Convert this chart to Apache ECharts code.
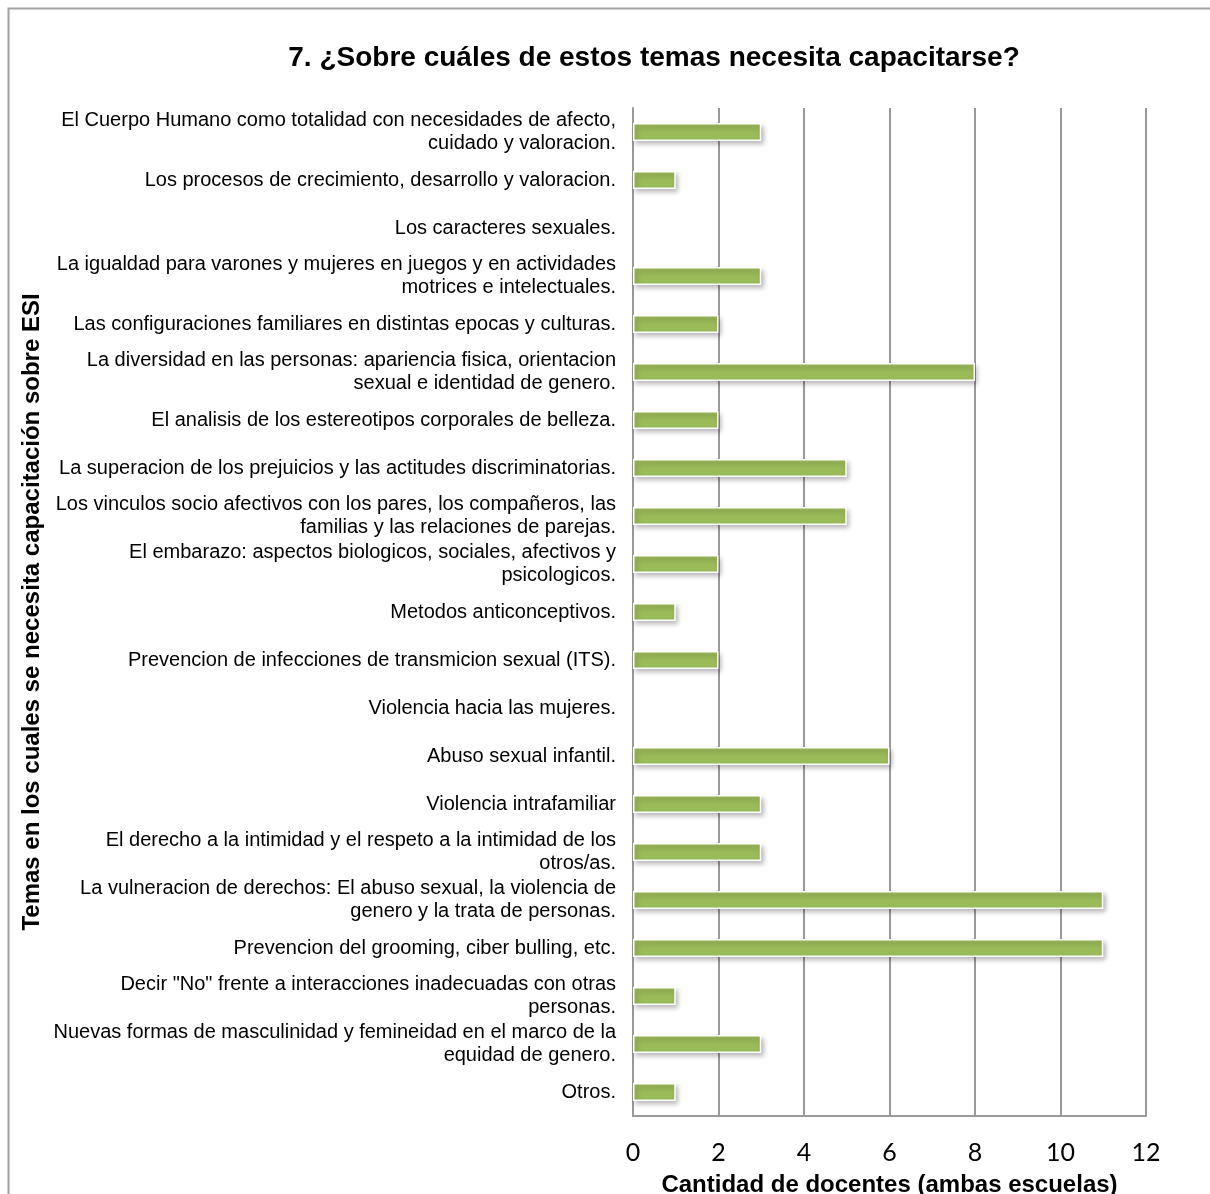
<!DOCTYPE html>
<html>
<head>
<meta charset="utf-8">
<script src="https://cdn.jsdelivr.net/npm/echarts@6/dist/echarts.min.js"></script>
<style>html,body{margin:0;padding:0;background:#fff;}#c{width:1210px;height:1194px;}</style>
</head>
<body>
<div id="c"></div>
<script>
const categories = [
  "El Cuerpo Humano como totalidad con necesidades de afecto,\ncuidado y valoracion.",
  "Los procesos de crecimiento, desarrollo y valoracion.",
  "Los caracteres sexuales.",
  "La igualdad para varones y mujeres en juegos y en actividades\nmotrices e intelectuales.",
  "Las configuraciones familiares en distintas epocas y culturas.",
  "La diversidad en las personas: apariencia fisica, orientacion\nsexual e identidad de genero.",
  "El analisis de los estereotipos corporales de belleza.",
  "La superacion de los prejuicios y las actitudes discriminatorias.",
  "Los vinculos socio afectivos con los pares, los compañeros, las\nfamilias y las relaciones de parejas.",
  "El embarazo: aspectos biologicos, sociales, afectivos y\npsicologicos.",
  "Metodos anticonceptivos.",
  "Prevencion de infecciones de transmicion sexual (ITS).",
  "Violencia hacia las mujeres.",
  "Abuso sexual infantil.",
  "Violencia intrafamiliar",
  "El derecho a la intimidad y el respeto a la intimidad de los\notros/as.",
  "La vulneracion de derechos: El abuso sexual, la violencia de\ngenero y la trata de personas.",
  "Prevencion del grooming, ciber bulling, etc.",
  "Decir \"No\" frente a interacciones inadecuadas con otras\npersonas.",
  "Nuevas formas de masculinidad y femineidad en el marco de la\nequidad de genero.",
  "Otros."
];
const values = [3, 1, 0, 3, 2, 8, 2, 5, 5, 2, 1, 2, 0, 6, 3, 3, 11, 11, 1, 3, 1];
const xTicks = { min: 0, max: 12, interval: 2 };
const titleText = "7. ¿Sobre cuáles de estos temas necesita capacitarse?";
const xName = "Cantidad de docentes (ambas escuelas)";
const yName = "Temas en los cuales se necesita capacitación sobre ESI";

const noMark = { borderWidth: 0, shadowBlur: 0, shadowOffsetX: 0, shadowOffsetY: 0, shadowColor: 'transparent' };
const barData = values.map(v => v === 0 ? { value: v, itemStyle: noMark } : v);

const chart = echarts.init(document.getElementById('c'), null, { renderer: 'canvas' });
chart.setOption({
  backgroundColor: '#fff',
  animation: false,
  title: {
    text: titleText,
    left: 649, top: 39, textAlign: 'center',
    textStyle: { fontFamily: 'Liberation Sans, Arial', fontWeight: 'bold', fontSize: 28, color: '#000' }
  },
  graphic: [{
    type: 'rect', shape: { x: 8.5, y: 8.5, width: 1240, height: 1240 },
    style: { fill: 'none', stroke: '#a0a0a0', lineWidth: 2 }, silent: true
  }],
  grid: { left: 633, right: 64, top: 108, bottom: 78, containLabel: false, outerBoundsMode: 'none' },
  xAxis: {
    type: 'value', min: xTicks.min, max: xTicks.max, interval: xTicks.interval,
    name: xName, nameLocation: 'middle', nameGap: 57,
    nameTextStyle: { fontFamily: 'Liberation Sans, Arial', fontWeight: 'bold', fontSize: 24, color: '#000' },
    axisLine: { show: true, lineStyle: { color: '#999', width: 2 } },
    axisTick: { show: false },
    axisLabel: { fontFamily: 'Lato, Open Sans', fontSize: 25, color: '#000', margin: 24 },
    splitLine: { show: true, lineStyle: { color: '#999', width: 2 } }
  },
  yAxis: {
    type: 'category', inverse: true, data: categories,
    name: yName, nameLocation: 'middle', nameRotate: 90, nameGap: 589,
    nameTextStyle: { fontFamily: 'Liberation Sans, Arial', fontWeight: 'bold', fontSize: 24, color: '#000' },
    axisLine: { show: true, lineStyle: { color: '#999', width: 2 } },
    axisTick: { show: false },
    axisLabel: { fontFamily: 'Liberation Sans, Arial', fontSize: 20, color: '#000', margin: 17, lineHeight: 23, align: 'right', interval: 0 },
    splitLine: { show: false }
  },
  series: [{
    type: 'bar', data: barData, barWidth: 18,
    itemStyle: {
      color: '#9BBB59', borderColor: '#ffffff', borderWidth: 1.5,
      shadowBlur: 5, shadowColor: 'rgba(0,0,0,0.3)', shadowOffsetX: 2, shadowOffsetY: 3
    }
  }]
});
</script>
</body>
</html>
